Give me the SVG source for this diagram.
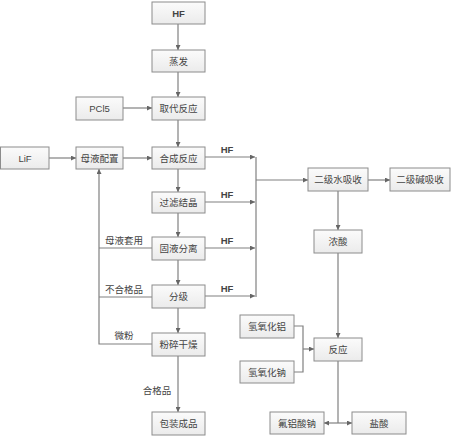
<svg xmlns="http://www.w3.org/2000/svg" width="454" height="439" viewBox="0 0 454 439">
<style>
.b{fill:url(#g);stroke:#8c8c8c;stroke-width:1}
.t{font-family:"Liberation Sans","Noto Sans CJK SC",sans-serif;font-size:9.5px;fill:#444;text-anchor:middle;dominant-baseline:central}
.l{font-family:"Liberation Sans","Noto Sans CJK SC",sans-serif;font-size:9.5px;fill:#444;text-anchor:middle}
.h{font-weight:bold}
.c{fill:none;stroke:#808080;stroke-width:1.2}
</style>
<defs>
<linearGradient id="g" x1="0" y1="0" x2="0" y2="1"><stop offset="0" stop-color="#fbfbfb"/><stop offset="1" stop-color="#ebebeb"/></linearGradient>
<marker id="a" viewBox="0 0 8 8" refX="8" refY="4" markerWidth="5" markerHeight="5" orient="auto" markerUnits="userSpaceOnUse"><path d="M0,0L8,4L0,8z" fill="#666"/></marker>
</defs>
<rect width="454" height="439" fill="#fff"/>
<g id="connectors">
<path class="c" d="M178,24V50" marker-end="url(#a)"/>
<path class="c" d="M178,72V97" marker-end="url(#a)"/>
<path class="c" d="M123,108H152" marker-end="url(#a)"/>
<path class="c" d="M178,120V147" marker-end="url(#a)"/>
<path class="c" d="M49,158H76" marker-end="url(#a)"/>
<path class="c" d="M123,158H152" marker-end="url(#a)"/>
<path class="c" d="M178,169V192" marker-end="url(#a)"/>
<path class="c" d="M178,213V237" marker-end="url(#a)"/>
<path class="c" d="M178,260V285" marker-end="url(#a)"/>
<path class="c" d="M178,308V333" marker-end="url(#a)"/>
<path class="c" d="M178,356V412" marker-end="url(#a)"/>
<path class="c" d="M152,248H99"/>
<path class="c" d="M152,297H99"/>
<path class="c" d="M152,344H99V169" marker-end="url(#a)"/>
<path class="c" d="M205,157H255" marker-end="url(#a)"/>
<path class="c" d="M205,202H255" marker-end="url(#a)"/>
<path class="c" d="M205,248H255" marker-end="url(#a)"/>
<path class="c" d="M205,296H255" marker-end="url(#a)"/>
<path class="c" d="M256,157V297"/>
<path class="c" d="M256,180H308" marker-end="url(#a)"/>
<path class="c" d="M368,180H390" marker-end="url(#a)"/>
<path class="c" d="M338,191V230" marker-end="url(#a)"/>
<path class="c" d="M338,253V338" marker-end="url(#a)"/>
<path class="c" d="M294,326H303V372H294"/>
<path class="c" d="M303,349H314" marker-end="url(#a)"/>
<path class="c" d="M338,361V423"/>
<path class="c" d="M338,423H324" marker-end="url(#a)"/>
<path class="c" d="M338,423H352" marker-end="url(#a)"/>
<text class="l h" x="227" y="153">HF</text>
<text class="l h" x="227" y="198">HF</text>
<text class="l h" x="227" y="244">HF</text>
<text class="l h" x="227" y="292">HF</text>
<text class="l" x="124" y="244">母液套用</text>
<text class="l" x="124" y="293">不合格品</text>
<text class="l" x="124" y="339">微粉</text>
<text class="l" x="157" y="394">合格品</text>
</g>
<g id="n-hf"><rect class="b" x="152" y="2" width="53" height="22"/><text class="t h" x="178.5" y="13">HF</text></g>
<g id="n-zf"><rect class="b" x="152" y="50" width="53" height="22"/><text class="t" x="178.5" y="61">蒸发</text></g>
<g id="n-qd"><rect class="b" x="152" y="97" width="53" height="23"/><text class="t" x="178.5" y="108.5">取代反应</text></g>
<g id="n-pcl"><rect class="b" x="76" y="97" width="47" height="23"/><text class="t" x="99.5" y="108.5">PCl5</text></g>
<g id="n-hc"><rect class="b" x="152" y="147" width="53" height="22"/><text class="t" x="178.5" y="158">合成反应</text></g>
<g id="n-my"><rect class="b" x="76" y="147" width="47" height="22"/><text class="t" x="99.5" y="158">母液配置</text></g>
<g id="n-lif"><rect class="b" x="0.5" y="147" width="48.5" height="22"/><text class="t" x="25" y="158">LiF</text></g>
<g id="n-gl"><rect class="b" x="152" y="192" width="53" height="21"/><text class="t" x="178.5" y="202.5">过滤结晶</text></g>
<g id="n-gy"><rect class="b" x="152" y="237" width="53" height="23"/><text class="t" x="178.5" y="248.5">固液分离</text></g>
<g id="n-fj"><rect class="b" x="152" y="285" width="53" height="23"/><text class="t" x="178.5" y="296.5">分级</text></g>
<g id="n-fs"><rect class="b" x="152" y="333" width="53" height="23"/><text class="t" x="178.5" y="344.5">粉碎干燥</text></g>
<g id="n-bz"><rect class="b" x="152" y="412" width="53" height="23"/><text class="t" x="178.5" y="423.5">包装成品</text></g>
<g id="n-ejs"><rect class="b" x="308" y="168" width="60" height="23"/><text class="t" x="338" y="179.5">二级水吸收</text></g>
<g id="n-ejj"><rect class="b" x="390" y="168" width="60" height="23"/><text class="t" x="420" y="179.5">二级碱吸收</text></g>
<g id="n-ns"><rect class="b" x="314" y="230" width="48" height="23"/><text class="t" x="338" y="241.5">浓酸</text></g>
<g id="n-al"><rect class="b" x="240" y="315" width="54" height="23"/><text class="t" x="267" y="326.5">氢氧化铝</text></g>
<g id="n-na"><rect class="b" x="240" y="361" width="54" height="22"/><text class="t" x="267" y="372">氢氧化钠</text></g>
<g id="n-fy"><rect class="b" x="314" y="338" width="48" height="23"/><text class="t" x="338" y="349.5">反应</text></g>
<g id="n-flsn"><rect class="b" x="270" y="412" width="54" height="22"/><text class="t" x="297" y="423">氟铝酸钠</text></g>
<g id="n-ys"><rect class="b" x="352" y="412" width="54" height="22"/><text class="t" x="379" y="423">盐酸</text></g>
</svg>
